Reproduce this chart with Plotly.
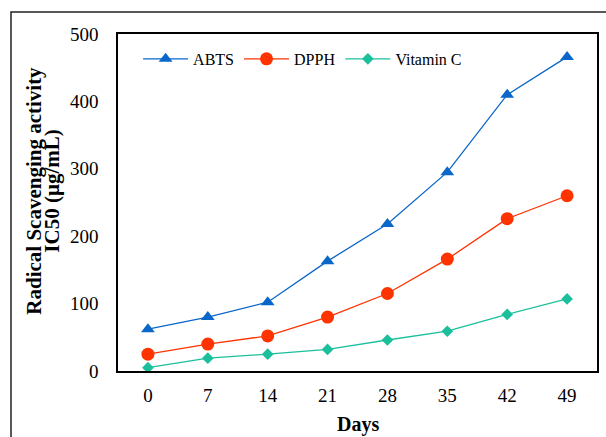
import plotly.graph_objects as go

days = ["0", "7", "14", "21", "28", "35", "42", "49"]
abts = [62, 80, 102, 163, 218, 295, 410, 466]
dpph = [25, 40, 52, 80, 115, 166, 226, 260]
vitc = [5, 19, 25, 32, 46, 59, 84, 107]

series_names = ["ABTS", "DPPH", "Vitamin C"]
colors = ["#0A66C8", "#FF3300", "#1CBF9C"]
symbols = ["triangle-up", "circle", "diamond"]
sizes = [12, 13, 9]

FONT = "Liberation Serif"

fig = go.Figure()
for name, vals, col, sym, sz in zip(series_names, [abts, dpph, vitc], colors, symbols, sizes):
    fig.add_trace(go.Scatter(
        x=days, y=vals, name=name, mode="lines+markers",
        line=dict(color=col, width=1.3),
        marker=dict(symbol=sym, size=sz, color=col),
    ))

fig.update_layout(
    width=606, height=437,
    margin=dict(l=118, r=9, t=34, b=66, autoexpand=False),
    paper_bgcolor="white", plot_bgcolor="white",
    font=dict(family=FONT, color="black", size=19),
    showlegend=True,
    legend=dict(orientation="h", x=0.042, y=0.926, xanchor="left", yanchor="middle",
                font=dict(size=16, family=FONT, color="black"),
                itemwidth=45,
                bgcolor="rgba(0,0,0,0)", itemclick=False),
    xaxis=dict(type="category", range=[-0.5, 7.5], showgrid=False, zeroline=False,
               showline=True, linecolor="black", linewidth=1.5, mirror=True,
               ticks="", ticklabelstandoff=6,
               tickfont=dict(size=19, family=FONT, color="black")),
    yaxis=dict(range=[0, 500], dtick=100, showgrid=False, zeroline=False,
               showline=True, linecolor="black", linewidth=1.5, mirror=True,
               ticks="", ticklabelstandoff=14,
               tickfont=dict(size=19, family=FONT, color="black")),
    annotations=[
        dict(text="<b>Days</b>", xref="paper", yref="paper", x=0.5, y=-0.12,
             xanchor="center", yanchor="top", showarrow=False,
             font=dict(size=20, family=FONT, color="black")),
        dict(text="<b>Radical Scavenging activity</b>", xref="paper", yref="paper",
             x=(34 - 118) / 479, y=0.535, xanchor="center", yanchor="middle",
             textangle=-90, showarrow=False,
             font=dict(size=21, family=FONT, color="black")),
        dict(text="<b>IC50 (µg/mL)</b>", xref="paper", yref="paper",
             x=(52 - 118) / 479, y=0.535, xanchor="center", yanchor="middle",
             textangle=-90, showarrow=False,
             font=dict(size=21, family=FONT, color="black")),
    ],
    shapes=[dict(type="rect", xref="paper", yref="paper",
                 x0=(11 - 118) / 479, x1=(615 - 118) / 479,
                 y0=(371 - 450) / 337, y1=(371 - 12) / 337,
                 line=dict(color="#222", width=1.5), layer="below")],
)

fig.write_html("out.html")
